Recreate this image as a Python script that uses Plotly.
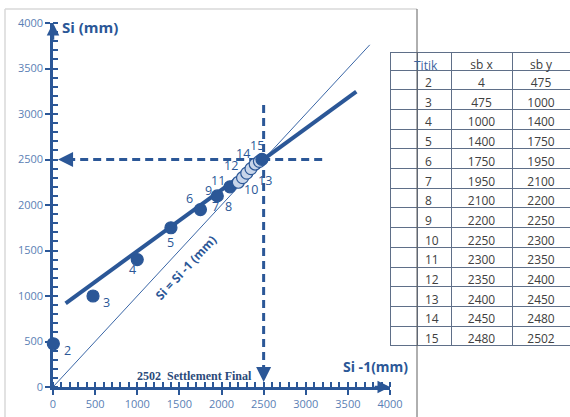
import plotly.graph_objects as go

# ---------------- data ----------------
titik = [2, 3, 4, 5, 6, 7, 8, 9, 10, 11, 12, 13, 14, 15]
sb_x = [4, 475, 1000, 1400, 1750, 1950, 2100, 2200, 2250, 2300, 2350, 2400, 2450, 2480]
sb_y = [475, 1000, 1400, 1750, 1950, 2100, 2200, 2250, 2300, 2350, 2400, 2450, 2480, 2502]
trend_x = [150, 3600]
trend_y = [920, 3245]
identity_xy = [0, 3760]
final_settlement = 2502
tick_vals = [0, 500, 1000, 1500, 2000, 2500, 3000, 3500, 4000]
table_header = ["Titik", "sb x", "sb y"]

# label offsets in pixels (style)
label_dx = [14, 13, -5, 0, -11, -2, -1, -30, 8, -29, -20, 10, -16, -5]
label_dy = [7, 6, 10, 15, -11, 11, 20, 8, 12, 7, -3, 16, -8, -14]

BLUE = "#2b5797"
TICKC = "#5b7fb5"
W, H = 570, 417

def px_x(p):
    return p / W

def px_y(p):
    return 1 - p / H

fig = go.Figure()

# identity line
fig.add_trace(go.Scatter(x=identity_xy, y=identity_xy, mode="lines",
                         line=dict(color="#3a66a6", width=1), hoverinfo="skip"))
# trend line
fig.add_trace(go.Scatter(x=trend_x, y=trend_y, mode="lines",
                         line=dict(color=BLUE, width=4), hoverinfo="skip"))
# dashed guide lines
fig.add_trace(go.Scatter(x=[3195, 160], y=[2500, 2500], mode="lines",
                         line=dict(color=BLUE, width=3, dash="8px,5px"), hoverinfo="skip"))
fig.add_trace(go.Scatter(x=[2500, 2500], y=[3100, 200], mode="lines",
                         line=dict(color=BLUE, width=3, dash="8px,5px"), hoverinfo="skip"))

# points
fill = [BLUE if t <= 8 or t == 15 else "#c8d5ea" for t in titik]
fig.add_trace(go.Scatter(x=sb_x, y=sb_y, mode="markers", cliponaxis=False,
                         marker=dict(size=12, color=fill, line=dict(color=BLUE, width=1.2)),
                         hoverinfo="skip"))

# labels of points
ann = []
for t, x, y, dx, dy in zip(titik, sb_x, sb_y, label_dx, label_dy):
    ann.append(dict(x=x, y=y, xref="x", yref="y", text=str(t), showarrow=False,
                    xshift=dx, yshift=-dy,
                    font=dict(family="Open Sans", size=12.5, color=BLUE)))

# axis arrows
ann.append(dict(x=0, y=4000, ax=0, ay=3800, xref="x", yref="y", axref="x", ayref="y",
                showarrow=True, arrowhead=2, arrowsize=1, arrowwidth=2.5, arrowcolor=BLUE, text=""))
ann.append(dict(x=4000, y=0, ax=3800, ay=0, xref="x", yref="y", axref="x", ayref="y",
                showarrow=True, arrowhead=2, arrowsize=1, arrowwidth=2.5, arrowcolor=BLUE, text=""))
# dashed line arrows
ann.append(dict(x=60, y=2500, ax=200, ay=2500, xref="x", yref="y", axref="x", ayref="y",
                showarrow=True, arrowhead=2, arrowsize=1, arrowwidth=3, arrowcolor=BLUE, text=""))
ann.append(dict(x=2500, y=55, ax=2500, ay=220, xref="x", yref="y", axref="x", ayref="y",
                showarrow=True, arrowhead=2, arrowsize=1, arrowwidth=3, arrowcolor=BLUE, text=""))

# texts
ann.append(dict(x=px_x(60), y=px_y(27), xref="paper", yref="paper", xanchor="left", yanchor="middle",
                text="<b>Si (mm)</b>", showarrow=False,
                font=dict(family="Open Sans", size=15, color=BLUE)))
ann.append(dict(x=px_x(410), y=px_y(366), xref="paper", yref="paper", xanchor="right", yanchor="middle",
                text="<b>Si -1(mm)</b>", showarrow=False,
                font=dict(family="Open Sans", size=14, color=BLUE)))
ann.append(dict(x=px_x(135), y=px_y(376), xref="paper", yref="paper", xanchor="left", yanchor="middle",
                text="<b>%d  Settlement Final</b>" % final_settlement, showarrow=False,
                font=dict(family="Liberation Serif", size=12, color="#2b4a7a")))
ann.append(dict(x=1580, y=1308, xref="x", yref="y", text="<b>Si = Si -1 (mm)</b>", showarrow=False,
                textangle=-47, font=dict(family="Open Sans", size=12, color=BLUE)))
# header text of the first table column (spans the split column)
ann.append(dict(x=px_x(426), y=px_y(65), xref="paper", yref="paper", xanchor="center", yanchor="middle",
                text=table_header[0], showarrow=False,
                font=dict(family="Open Sans", size=12, color="#3b64a0")))

# table (first column split at the frame line, as in the reference)
fig.add_trace(go.Table(
    domain=dict(x=[px_x(390), 1.0], y=[px_y(360), px_y(52)]),
    columnwidth=[27, 34, 61, 58],
    header=dict(values=["", "", table_header[1], table_header[2]], height=18,
                align=["right", "left", "center", "center"],
                fill_color="white", line=dict(color="#5f6f88", width=1),
                font=dict(family="Open Sans", size=12, color="#404040")),
    cells=dict(values=[[""] * len(titik), [str(t) for t in titik],
                       [str(v) for v in sb_x], [str(v) for v in sb_y]], height=19.7,
               align=["left", "left", "center", "center"],
               fill_color="white", line=dict(color="#5f6f88", width=1),
               font=dict(family="Open Sans", size=12, color="#404040")),
))

axis_common = dict(range=[0, 4000], tickvals=tick_vals, showgrid=False, zeroline=False,
                   showline=True, linecolor=BLUE, linewidth=2.5, automargin=False,
                   ticks="outside", ticklen=5, tickwidth=2, tickcolor=BLUE,
                   tickfont=dict(family="Open Sans", size=11, color=TICKC),
                   minor=dict(ticks="inside", dtick=100, ticklen=5, tickwidth=1.5, tickcolor=BLUE))

fig.update_layout(
    width=W, height=H, margin=dict(l=0, r=0, t=0, b=0, pad=0, autoexpand=False),
    paper_bgcolor="white", plot_bgcolor="white", showlegend=False,
    xaxis=dict(domain=[px_x(53), px_x(390)], **axis_common),
    yaxis=dict(domain=[px_y(387), px_y(23)], **axis_common),
    annotations=ann,
    shapes=[
        dict(type="line", xref="paper", yref="paper", x0=px_x(5), x1=px_x(417), y0=px_y(9), y1=px_y(9),
             line=dict(color="#d9d9d9", width=1.5)),
        dict(type="line", xref="paper", yref="paper", x0=px_x(5), x1=px_x(5), y0=px_y(9), y1=0,
             line=dict(color="#d9d9d9", width=1.5)),
        dict(type="line", xref="paper", yref="paper", x0=px_x(417), x1=px_x(417), y0=px_y(9), y1=0,
             line=dict(color="#606060", width=1), layer="above"),
    ],
)

fig.write_html("out.html", config={"displayModeBar": False},
               post_script="document.body.style.margin='0px';document.body.style.overflow='hidden';")
